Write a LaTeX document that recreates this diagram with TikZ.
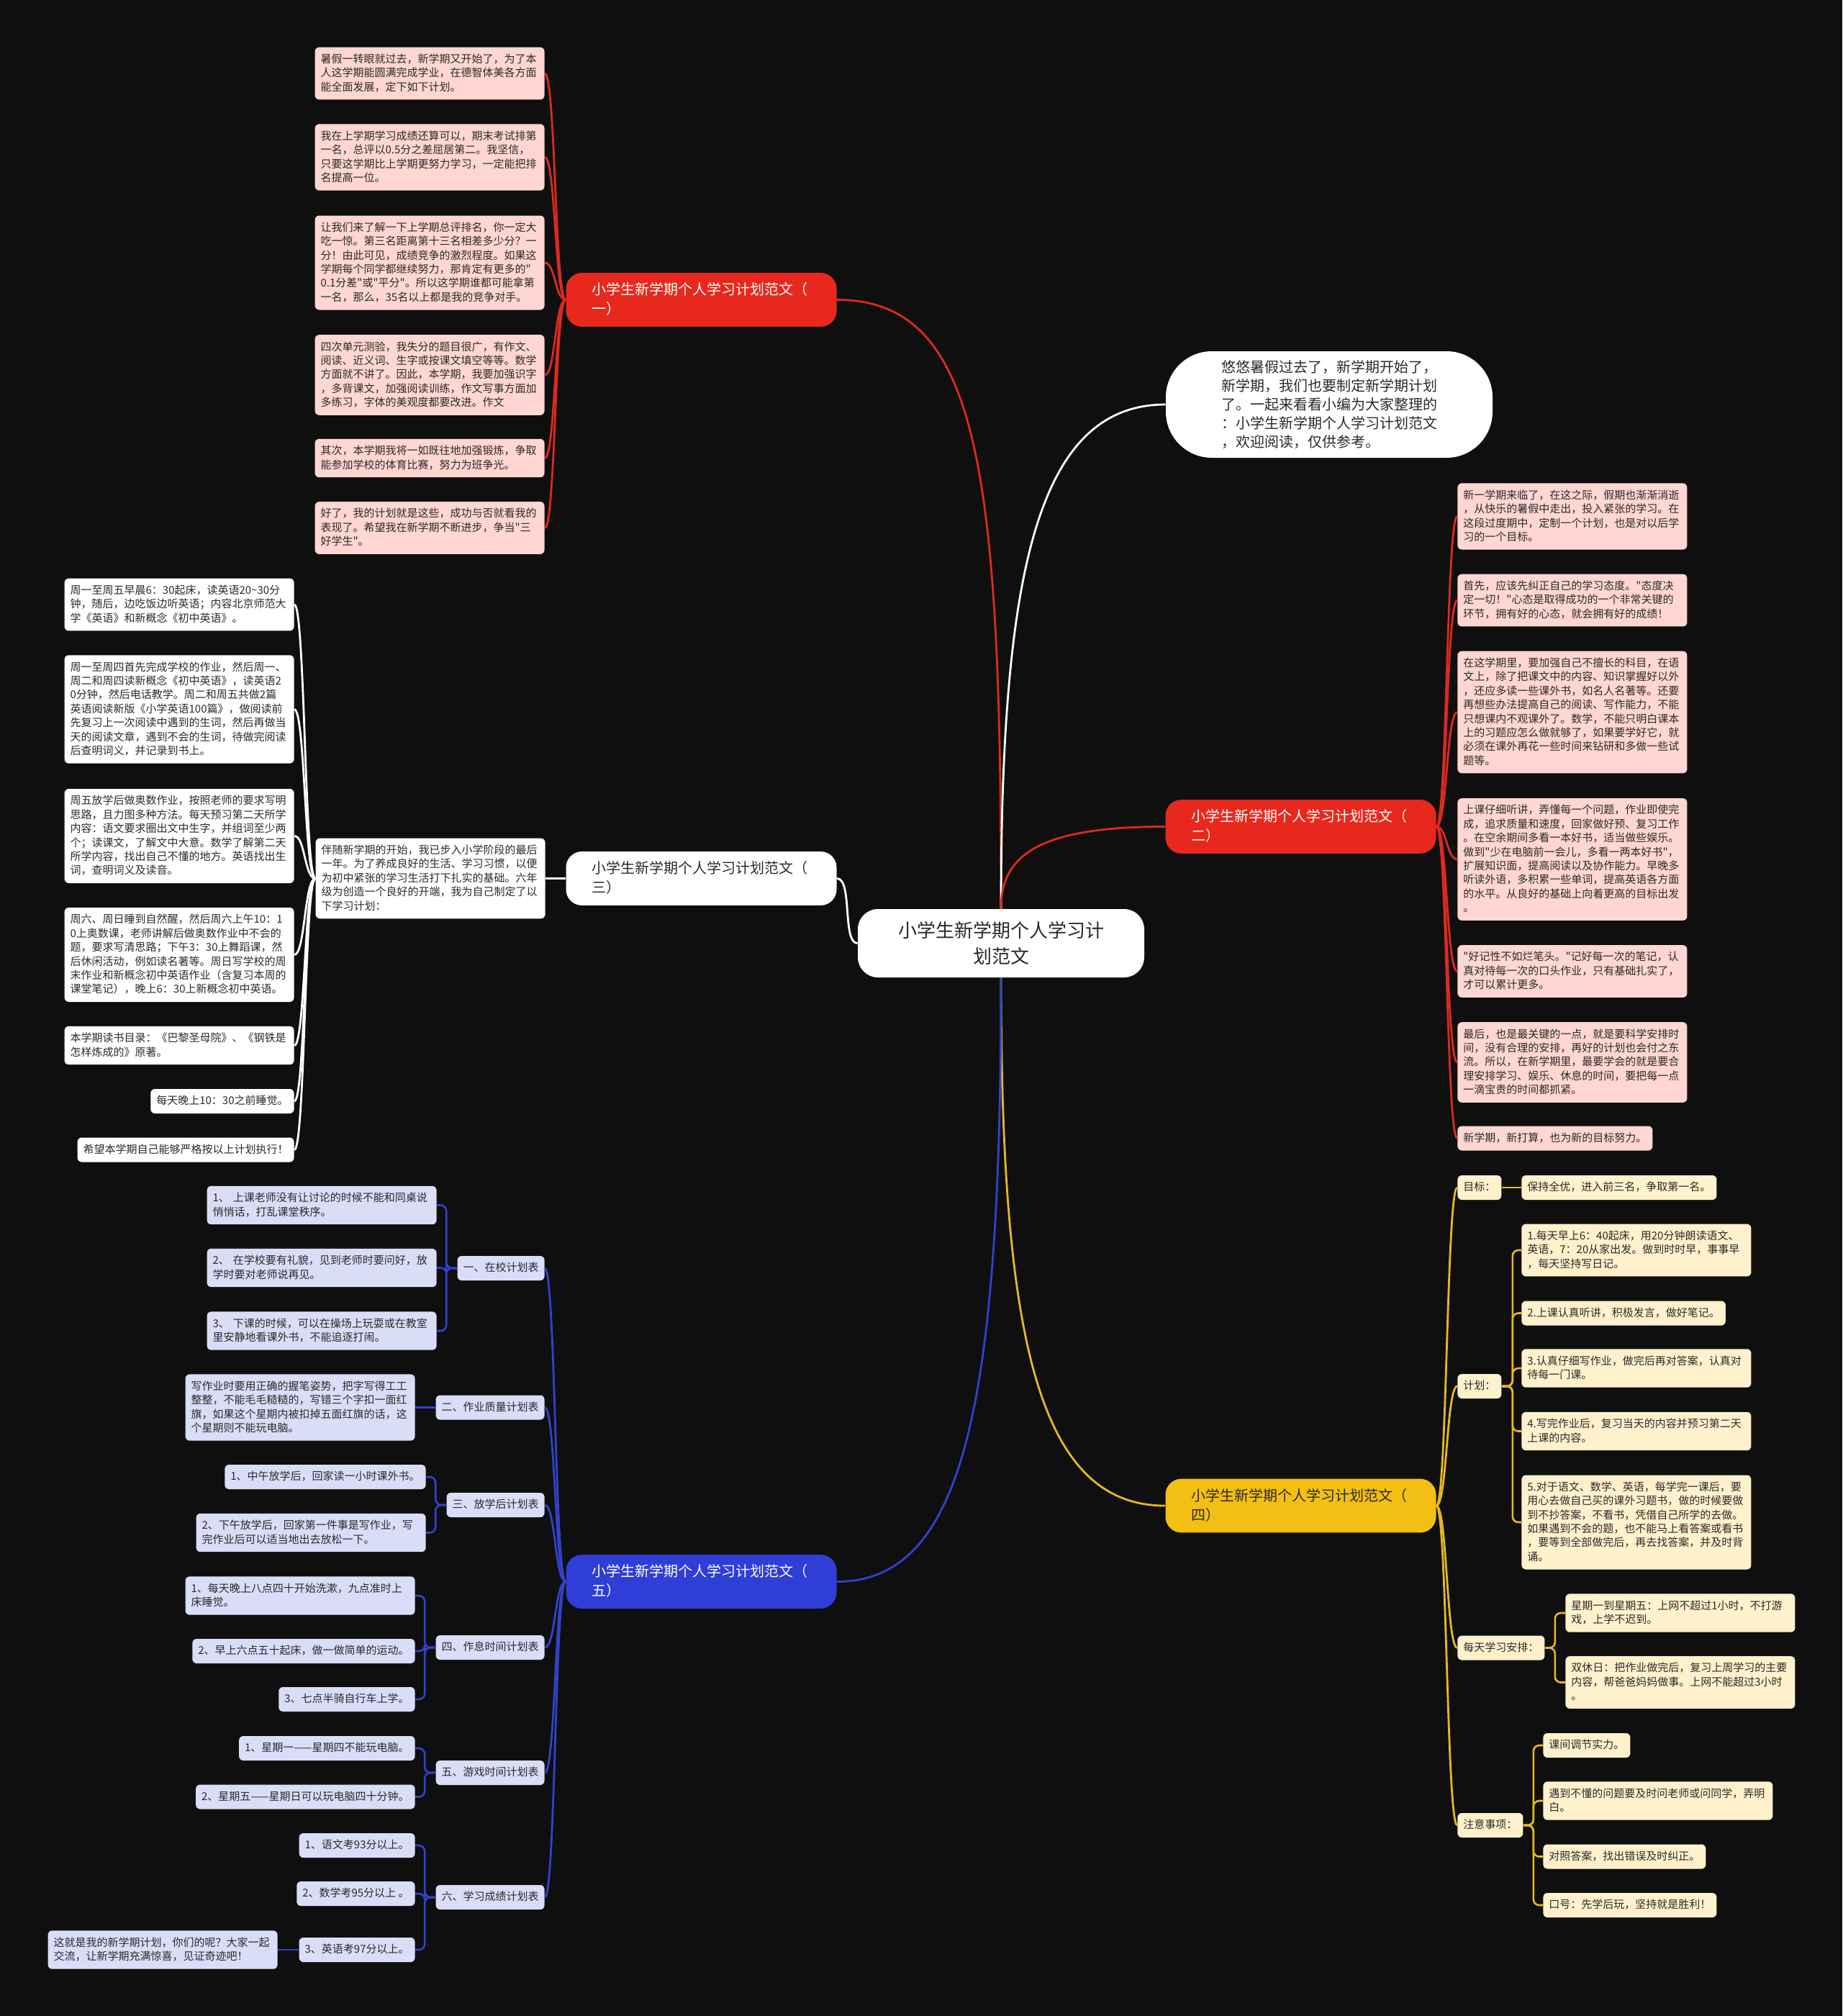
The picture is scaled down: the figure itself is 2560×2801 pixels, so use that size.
\documentclass[tikz,border=0pt]{standalone}
\usepackage{fontspec}
\newfontfamily\cjk{Noto Sans CJK SC}
\begin{document}
\begin{tikzpicture}[
    x=0.5pt, y=-0.5pt,
    root/.style={rectangle, rounded corners=14pt, fill=white, text=textdark,
        minimum width=199pt, minimum height=47.5pt, align=center,
        font=\cjk\fontsize{13}{18}\selectfont, inner sep=0pt},
    intro/.style={rectangle, rounded corners=32pt, fill=white, text=textdark,
        minimum width=227pt, minimum height=74pt, text width=150pt, align=left,
        font=\cjk\fontsize{10}{13.1}\selectfont, inner sep=0pt},
    branch/.style={rectangle, rounded corners=11pt, text width=152pt, align=left,
        inner xsep=18pt, inner ysep=6.2pt, font=\cjk\fontsize{10}{13.5}\selectfont,
        execute at begin node={\rule{0pt}{9pt}},
        execute at end node={\rule[-2.5pt]{0pt}{2.5pt}}},
    leaf/.style={rectangle, rounded corners=3pt, align=left, text=textdark,
        inner xsep=4pt, inner ysep=4.1pt, font=\cjk\fontsize{7.5}{9.7}\selectfont,
        execute at begin node={\rule{0pt}{6.8pt}},
        execute at end node={\rule[-2pt]{0pt}{2pt}}},
    wide/.style={text width=151.5pt},
    link/.style={line width=1.4pt},
    bracket/.style={line width=1.3pt, rounded corners=4pt},
]
\definecolor{bgdark}{HTML}{0F0F0F}
\definecolor{textdark}{HTML}{2A2A2A}
\definecolor{redmain}{HTML}{E8281D}
\definecolor{redline}{HTML}{DC2A1F}
\definecolor{pinkleaf}{HTML}{FFD6D1}
\definecolor{bluemain}{HTML}{2F3ED6}
\definecolor{blueline}{HTML}{3142CC}
\definecolor{blueleaf}{HTML}{DADDF8}
\definecolor{yellowmain}{HTML}{F2BF12}
\definecolor{yellowline}{HTML}{E6B823}
\definecolor{yellowleaf}{HTML}{FFF1CC}
\fill[bgdark] (0,0) rectangle (2560,2801);
\useasboundingbox (0,0) rectangle (2560,2801);
  % centre and main branches
  \node[root] (root) at (1391,1310.5) {小学生新学期个人学习计\\划范文};
  \node[intro] (intro) at (1847,562) {悠悠暑假过去了，新学期开始了，\\新学期，我们也要制定新学期计划\\了。一起来看看小编为大家整理的\\：小学生新学期个人学习计划范文\\，欢迎阅读，仅供参考。};
  \node[branch, fill=redmain, text=white] (b_one) at (974.5,416.5) {小学生新学期个人学习计划范文（\\一）};
  \node[branch, fill=redmain, text=white] (b_two) at (1807.5,1148.5) {小学生新学期个人学习计划范文（\\二）};
  \node[branch, fill=white, text=textdark] (b_three) at (974.5,1220.5) {小学生新学期个人学习计划范文（\\三）};
  \node[branch, fill=yellowmain, text=textdark] (b_four) at (1807.5,2092) {小学生新学期个人学习计划范文（\\四）};
  \node[branch, fill=bluemain, text=white] (b_five) at (974.5,2197.5) {小学生新学期个人学习计划范文（\\五）};
  \draw[link, redline] (root.north) .. controls (1391,650) and (1360,416.5) .. (b_one.east);
  \draw[link, white] (root.north) .. controls (1391,800) and (1440,562) .. (intro.west);
  \draw[link, redline] (root.north) .. controls (1391,1190) and (1440,1148.5) .. (b_two.west);
  \draw[link, white] (b_three.east) .. controls (1185,1220.5) and (1170,1310.5) .. (root.west);
  \draw[link, yellowline] (root.south) .. controls (1391,1850) and (1440,2092) .. (b_four.west);
  \draw[link, blueline] (root.south) .. controls (1391,1950) and (1340,2197.5) .. (b_five.east);
  % branch one
  \node[leaf, wide, fill=pinkleaf, anchor=east] (l_one_1) at (757,102) {暑假一转眼就过去，新学期又开始了，为了本\\人这学期能圆满完成学业，在德智体美各方面\\能全面发展，定下如下计划。};
  \node[leaf, wide, fill=pinkleaf, anchor=east] (l_one_2) at (757,218.5) {我在上学期学习成绩还算可以，期末考试排第\\一名，总评以0.5分之差屈居第二。我坚信，\\只要这学期比上学期更努力学习，一定能把排\\名提高一位。};
  \node[leaf, wide, fill=pinkleaf, anchor=east] (l_one_3) at (757,365) {让我们来了解一下上学期总评排名，你一定大\\吃一惊。第三名距离第十三名相差多少分？一\\分！由此可见，成绩竞争的激烈程度。如果这\\学期每个同学都继续努力，那肯定有更多的"\\0.1分差"或"平分"。所以这学期谁都可能拿第\\一名，那么，35名以上都是我的竞争对手。};
  \node[leaf, wide, fill=pinkleaf, anchor=east] (l_one_4) at (757,521) {四次单元测验，我失分的题目很广，有作文、\\阅读、近义词、生字或按课文填空等等。数学\\方面就不讲了。因此，本学期，我要加强识字\\，多背课文，加强阅读训练，作文写事方面加\\多练习，字体的美观度都要改进。作文};
  \node[leaf, wide, fill=pinkleaf, anchor=east] (l_one_5) at (757,636.5) {其次，本学期我将一如既往地加强锻炼，争取\\能参加学校的体育比赛，努力为班争光。};
  \node[leaf, wide, fill=pinkleaf, anchor=east] (l_one_6) at (757,733.5) {好了，我的计划就是这些，成功与否就看我的\\表现了。希望我在新学期不断进步，争当"三\\好学生"。};
  \foreach \n in {1,...,6}
    \draw[link, redline] (b_one.west) .. controls +(-15,0) and +(15,0) .. (l_one_\n.east);
  % branch two
  \node[leaf, wide, fill=pinkleaf, anchor=west] (l_two_1) at (2025,717.5) {新一学期来临了，在这之际，假期也渐渐消逝\\，从快乐的暑假中走出，投入紧张的学习。在\\这段过度期中，定制一个计划，也是对以后学\\习的一个目标。};
  \node[leaf, wide, fill=pinkleaf, anchor=west] (l_two_2) at (2025,834) {首先，应该先纠正自己的学习态度。"态度决\\定一切！"心态是取得成功的一个非常关键的\\环节，拥有好的心态，就会拥有好的成绩！};
  \node[leaf, wide, fill=pinkleaf, anchor=west] (l_two_3) at (2025,989.5) {在这学期里，要加强自己不擅长的科目，在语\\文上，除了把课文中的内容、知识掌握好以外\\，还应多读一些课外书，如名人名著等。还要\\再想些办法提高自己的阅读、写作能力，不能\\只想课内不观课外了。数学，不能只明白课本\\上的习题应怎么做就够了，如果要学好它，就\\必须在课外再花一些时间来钻研和多做一些试\\题等。};
  \node[leaf, wide, fill=pinkleaf, anchor=west] (l_two_4) at (2025,1194) {上课仔细听讲，弄懂每一个问题，作业即使完\\成，追求质量和速度，回家做好预、复习工作\\。在空余期间多看一本好书，适当做些娱乐。\\做到"少在电脑前一会儿，多看一两本好书"，\\扩展知识面，提高阅读以及协作能力。早晚多\\听读外语，多积累一些单词，提高英语各方面\\的水平。从良好的基础上向着更高的目标出发\\。};
  \node[leaf, wide, fill=pinkleaf, anchor=west] (l_two_5) at (2025,1349.5) {"好记性不如烂笔头。"记好每一次的笔记，认\\真对待每一次的口头作业，只有基础扎实了，\\才可以累计更多。};
  \node[leaf, wide, fill=pinkleaf, anchor=west] (l_two_6) at (2025,1476) {最后，也是最关键的一点，就是要科学安排时\\间，没有合理的安排，再好的计划也会付之东\\流。所以，在新学期里，最要学会的就是要合\\理安排学习、娱乐、休息的时间，要把每一点\\一滴宝贵的时间都抓紧。};
  \node[leaf, fill=pinkleaf, anchor=west] (l_two_7) at (2025,1581.5) {新学期，新打算，也为新的目标努力。};
  \foreach \n in {1,...,7}
    \draw[link, redline] (b_two.east) .. controls +(15,0) and +(-15,0) .. (l_two_\n.west);
  % branch three
  \node[leaf, wide, fill=white, anchor=east] (l_three_0) at (758,1220.5) {伴随新学期的开始，我已步入小学阶段的最后\\一年。为了养成良好的生活、学习习惯，以便\\为初中紧张的学习生活打下扎实的基础。六年\\级为创造一个良好的开端，我为自己制定了以\\下学习计划：};
  \node[leaf, wide, fill=white, anchor=east] (l_three_1) at (409,840) {周一至周五早晨6：30起床，读英语20\textasciitilde30分\\钟，随后，边吃饭边听英语；内容北京师范大\\学《英语》和新概念《初中英语》。};
  \node[leaf, wide, fill=white, anchor=east] (l_three_2) at (409,985.5) {周一至周四首先完成学校的作业，然后周一、\\周二和周四读新概念《初中英语》，读英语2\\0分钟，然后电话教学。周二和周五共做2篇\\英语阅读新版《小学英语100篇》，做阅读前\\先复习上一次阅读中遇到的生词，然后再做当\\天的阅读文章，遇到不会的生词，待做完阅读\\后查明词义，并记录到书上。};
  \node[leaf, wide, fill=white, anchor=east] (l_three_3) at (409,1161.5) {周五放学后做奥数作业，按照老师的要求写明\\思路，且力图多种方法。每天预习第二天所学\\内容：语文要求圈出文中生字，并组词至少两\\个；读课文，了解文中大意。数学了解第二天\\所学内容，找出自己不懂的地方。英语找出生\\词，查明词义及读音。};
  \node[leaf, wide, fill=white, anchor=east] (l_three_4) at (409,1326.5) {周六、周日睡到自然醒，然后周六上午10：1\\0上奥数课，老师讲解后做奥数作业中不会的\\题，要求写清思路；下午3：30上舞蹈课，然\\后休闲活动，例如读名著等。周日写学校的周\\末作业和新概念初中英语作业（含复习本周的\\课堂笔记），晚上6：30上新概念初中英语。};
  \node[leaf, wide, fill=white, anchor=east] (l_three_5) at (409,1452.5) {本学期读书目录：《巴黎圣母院》、《钢铁是\\怎样炼成的》原著。};
  \node[leaf, fill=white, anchor=east] (l_three_6) at (409,1530) {每天晚上10：30之前睡觉。};
  \node[leaf, fill=white, anchor=east] (l_three_7) at (409,1597.5) {希望本学期自己能够严格按以上计划执行！};
  \draw[link, white] (b_three.west) -- (l_three_0.east);
  \foreach \n in {1,...,7}
    \draw[link, white] (l_three_0.west) .. controls +(-15,0) and +(15,0) .. (l_three_\n.east);
  % branch five
  \node[leaf, fill=blueleaf, anchor=east] (s_five_1) at (757,1762) {一、在校计划表};
  \node[leaf, fill=blueleaf, anchor=east] (s_five_2) at (757,1955.5) {二、作业质量计划表};
  \node[leaf, fill=blueleaf, anchor=east] (s_five_3) at (757,2091) {三、放学后计划表};
  \node[leaf, fill=blueleaf, anchor=east] (s_five_4) at (757,2289) {四、作息时间计划表};
  \node[leaf, fill=blueleaf, anchor=east] (s_five_5) at (757,2463) {五、游戏时间计划表};
  \node[leaf, fill=blueleaf, anchor=east] (s_five_6) at (757,2636) {六、学习成绩计划表};
  \node[leaf, wide, fill=blueleaf, anchor=east] (l_five_1_1) at (607,1674.5) {1、 上课老师没有让讨论的时候不能和同桌说\\悄悄话，打乱课堂秩序。};
  \node[leaf, wide, fill=blueleaf, anchor=east] (l_five_1_2) at (607,1761.5) {2、 在学校要有礼貌，见到老师时要问好，放\\学时要对老师说再见。};
  \node[leaf, wide, fill=blueleaf, anchor=east] (l_five_1_3) at (607,1849) {3、 下课的时候，可以在操场上玩耍或在教室\\里安静地看课外书，不能追逐打闹。};
  \node[leaf, wide, fill=blueleaf, anchor=east] (l_five_2_1) at (577,1955.5) {写作业时要用正确的握笔姿势，把字写得工工\\整整，不能毛毛糙糙的，写错三个字扣一面红\\旗，如果这个星期内被扣掉五面红旗的话，这\\个星期则不能玩电脑。};
  \node[leaf, fill=blueleaf, anchor=east] (l_five_3_1) at (592,2052) {1、中午放学后，回家读一小时课外书。};
  \node[leaf, wide, fill=blueleaf, anchor=east] (l_five_3_2) at (592,2129.5) {2、下午放学后，回家第一件事是写作业，写\\完作业后可以适当地出去放松一下。};
  \node[leaf, wide, fill=blueleaf, anchor=east] (l_five_4_1) at (577,2217) {1、每天晚上八点四十开始洗漱，九点准时上\\床睡觉。};
  \node[leaf, fill=blueleaf, anchor=east] (l_five_4_2) at (577,2294) {2、早上六点五十起床，做一做简单的运动。};
  \node[leaf, fill=blueleaf, anchor=east] (l_five_4_3) at (577,2361) {3、七点半骑自行车上学。};
  \node[leaf, fill=blueleaf, anchor=east] (l_five_5_1) at (577,2429) {1、星期一——星期四不能玩电脑。};
  \node[leaf, fill=blueleaf, anchor=east] (l_five_5_2) at (577,2496.5) {2、星期五——星期日可以玩电脑四十分钟。};
  \node[leaf, fill=blueleaf, anchor=east] (l_five_6_1) at (577,2564) {1、语文考93分以上。};
  \node[leaf, fill=blueleaf, anchor=east] (l_five_6_2) at (577,2631) {2、数学考95分以上 。};
  \node[leaf, fill=blueleaf, anchor=east] (l_five_6_3) at (577,2709) {3、英语考97分以上。};
  \node[leaf, wide, fill=blueleaf, anchor=east] (l_five_end) at (386,2709) {这就是我的新学期计划，你们的呢？大家一起\\交流，让新学期充满惊喜，见证奇迹吧！};
  \foreach \n in {1,...,6}
    \draw[link, blueline] (b_five.west) .. controls +(-15,0) and +(15,0) .. (s_five_\n.east);
  \foreach \n in {1,2,3}
    \draw[bracket, blueline] (s_five_1.west) -- ++(-15,0) |- (l_five_1_\n.east);
  \draw[bracket, blueline] (s_five_2.west) -- (l_five_2_1.east);
  \foreach \n in {1,2}
    \draw[bracket, blueline] (s_five_3.west) -- ++(-15,0) |- (l_five_3_\n.east);
  \foreach \n in {1,2,3}
    \draw[bracket, blueline] (s_five_4.west) -- ++(-15,0) |- (l_five_4_\n.east);
  \foreach \n in {1,2}
    \draw[bracket, blueline] (s_five_5.west) -- ++(-15,0) |- (l_five_5_\n.east);
  \foreach \n in {1,2,3}
    \draw[bracket, blueline] (s_five_6.west) -- ++(-15,0) |- (l_five_6_\n.east);
  \draw[bracket, blueline] (l_five_6_3.west) -- (l_five_end.east);
  % branch four
  \node[leaf, fill=yellowleaf, anchor=west] (s_four_1) at (2025,1650) {目标：};
  \node[leaf, fill=yellowleaf, anchor=west] (s_four_2) at (2025,1926) {计划：};
  \node[leaf, fill=yellowleaf, anchor=west] (s_four_3) at (2025,2289.5) {每天学习安排：};
  \node[leaf, fill=yellowleaf, anchor=west] (s_four_4) at (2025,2536) {注意事项：};
  \node[leaf, fill=yellowleaf, anchor=west] (l_four_1_1) at (2114,1650) {保持全优，进入前三名，争取第一名。};
  \node[leaf, wide, fill=yellowleaf, anchor=west] (l_four_2_1) at (2114,1737) {1.每天早上6：40起床，用20分钟朗读语文、\\英语，7：20从家出发。做到时时早，事事早\\，每天坚持写日记。};
  \node[leaf, fill=yellowleaf, anchor=west] (l_four_2_2) at (2114,1824.5) {2.上课认真听讲，积极发言，做好笔记。};
  \node[leaf, wide, fill=yellowleaf, anchor=west] (l_four_2_3) at (2114,1901) {3.认真仔细写作业，做完后再对答案，认真对\\待每一门课。};
  \node[leaf, wide, fill=yellowleaf, anchor=west] (l_four_2_4) at (2114,1988.5) {4.写完作业后，复习当天的内容并预习第二天\\上课的内容。};
  \node[leaf, wide, fill=yellowleaf, anchor=west] (l_four_2_5) at (2114,2115) {5.对于语文、数学、英语，每学完一课后，要\\用心去做自己买的课外习题书，做的时候要做\\到不抄答案，不看书，凭借自己所学的去做。\\如果遇到不会的题，也不能马上看答案或看书\\，要等到全部做完后，再去找答案，并及时背\\诵。};
  \node[leaf, wide, fill=yellowleaf, anchor=west] (l_four_3_1) at (2175,2241) {星期一到星期五：上网不超过1小时，不打游\\戏，上学不迟到。};
  \node[leaf, wide, fill=yellowleaf, anchor=west] (l_four_3_2) at (2175,2337.5) {双休日：把作业做完后，复习上周学习的主要\\内容，帮爸爸妈妈做事。上网不能超过3小时\\。};
  \node[leaf, fill=yellowleaf, anchor=west] (l_four_4_1) at (2144,2425) {课间调节实力。};
  \node[leaf, wide, fill=yellowleaf, anchor=west] (l_four_4_2) at (2144,2502) {遇到不懂的问题要及时问老师或问同学，弄明\\白。};
  \node[leaf, fill=yellowleaf, anchor=west] (l_four_4_3) at (2144,2579.5) {对照答案，找出错误及时纠正。};
  \node[leaf, fill=yellowleaf, anchor=west] (l_four_4_4) at (2144,2647) {口号：先学后玩，坚持就是胜利！};
  \foreach \n in {1,...,4}
    \draw[link, yellowline] (b_four.east) .. controls +(15,0) and +(-15,0) .. (s_four_\n.west);
  \draw[bracket, yellowline] (s_four_1.east) -- (l_four_1_1.west);
  \foreach \n in {1,...,5}
    \draw[bracket, yellowline] (s_four_2.east) -- ++(15,0) |- (l_four_2_\n.west);
  \foreach \n in {1,2}
    \draw[bracket, yellowline] (s_four_3.east) -- ++(14,0) |- (l_four_3_\n.west);
  \foreach \n in {1,...,4}
    \draw[bracket, yellowline] (s_four_4.east) -- ++(14,0) |- (l_four_4_\n.west);
\end{tikzpicture}
\end{document}
